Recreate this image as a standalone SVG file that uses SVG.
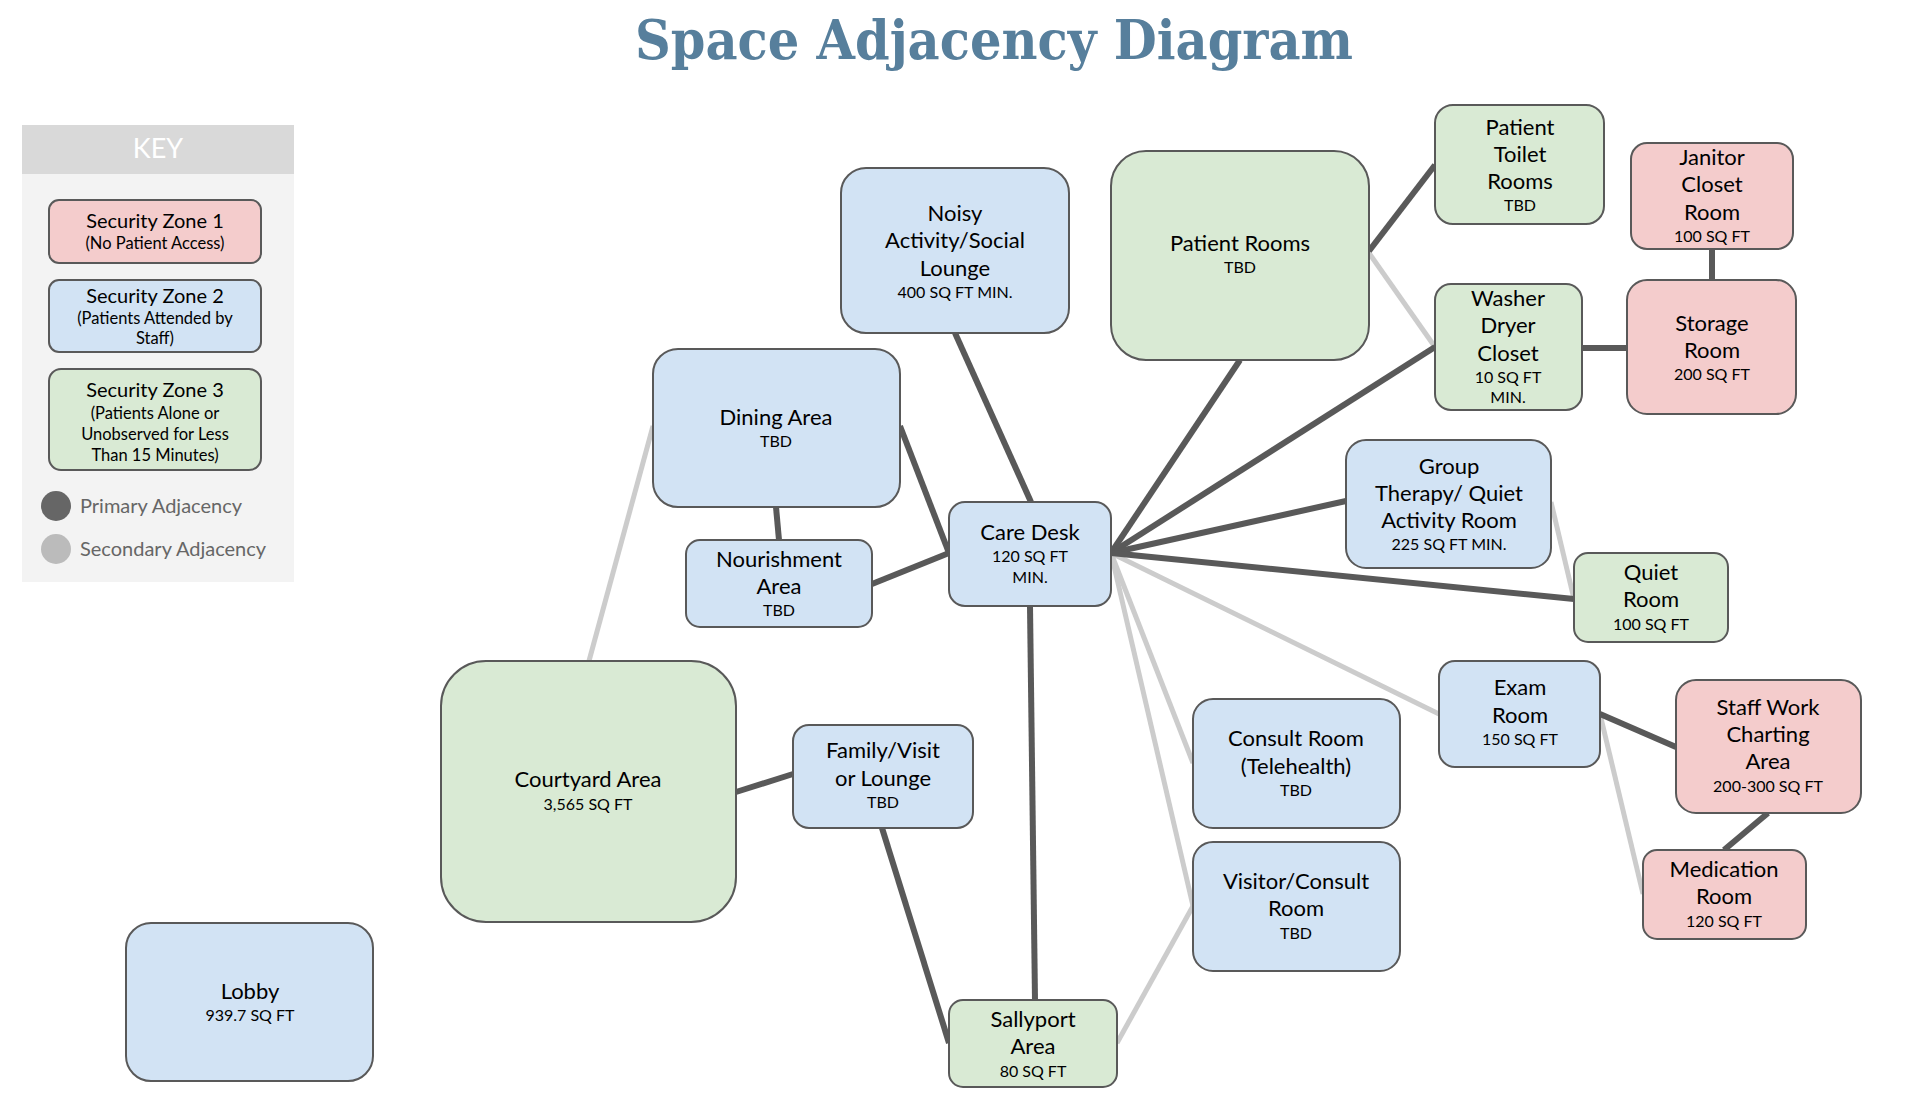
<svg xmlns="http://www.w3.org/2000/svg" width="1920" height="1109" viewBox="0 0 1920 1109">
<style>
.n rect{stroke:#595959;stroke-width:2}
.b{fill:#d2e3f4}.g{fill:#d9ead4}.r{fill:#f4cccc}
text{font-family:Lato,"Noto Sans",sans-serif;fill:#000;text-anchor:middle}
.m{font-size:22px}.s{font-size:16px}
.p{stroke:#595959;stroke-width:6;fill:none}
.q{stroke:#cccccc;stroke-width:5;fill:none}
.k{font-size:20px}.ks{font-size:16.5px}
</style>
<rect width="1920" height="1109" fill="#fff"/>
<text x="994" y="59" style="font-family:'DejaVu Serif','Liberation Serif',serif;font-weight:bold;font-size:54px;fill:#577f9c" textLength="718" lengthAdjust="spacingAndGlyphs">Space Adjacency Diagram</text>

<g id="key">
<rect x="22" y="125" width="272" height="457" fill="#f3f3f3"/>
<rect x="22" y="125" width="272" height="49" fill="#d9d9d9"/>
<text x="158" y="158" style="font-size:27px;fill:#fff">KEY</text>
<g class="n">
<rect class="r" x="49" y="200" width="212" height="63" rx="10"/>
<rect class="b" x="49" y="280" width="212" height="72" rx="10"/>
<rect class="g" x="49" y="369" width="212" height="101" rx="12"/>
</g>
<text class="k" x="155" y="228">Security Zone 1</text>
<text class="ks" x="155" y="249">(No Patient Access)</text>
<text class="k" x="155" y="303">Security Zone 2</text>
<text class="ks" x="155" y="324">(Patients Attended by</text>
<text class="ks" x="155" y="344">Staff)</text>
<text class="k" x="155" y="397">Security Zone 3</text>
<text class="ks" x="155" y="419">(Patients Alone or</text>
<text class="ks" x="155" y="440">Unobserved for Less</text>
<text class="ks" x="155" y="461">Than 15 Minutes)</text>
<circle cx="56" cy="506" r="15" fill="#666"/>
<circle cx="56" cy="549" r="15" fill="#bbb"/>
<text x="80" y="513" style="font-size:20px;fill:#666;text-anchor:start">Primary Adjacency</text>
<text x="80" y="556" style="font-size:20px;fill:#666;text-anchor:start">Secondary Adjacency</text>
</g>

<g id="connectors">
<line class="q" x1="1369" y1="253" x2="1435" y2="347"/>
<line class="q" x1="653" y1="426" x2="589" y2="661"/>
<line class="q" x1="1551" y1="502" x2="1574" y2="599"/>
<line class="q" x1="1111" y1="553" x2="1439" y2="714"/>
<line class="q" x1="1111" y1="553" x2="1193" y2="763"/>
<line class="q" x1="1111" y1="553" x2="1193" y2="906"/>
<line class="q" x1="1193" y1="906" x2="1117" y2="1043"/>
<line class="q" x1="1600" y1="714" x2="1643" y2="894"/>
<line class="p" x1="955" y1="333" x2="1031" y2="502"/>
<line class="p" x1="1240" y1="360" x2="1111" y2="553"/>
<line class="p" x1="1369" y1="251" x2="1435" y2="165"/>
<line class="p" x1="1435" y1="347" x2="1111" y2="553"/>
<line class="p" x1="1582" y1="348" x2="1627" y2="348"/>
<line class="p" x1="1712" y1="249" x2="1712" y2="280"/>
<line class="p" x1="1346" y1="501" x2="1111" y2="553"/>
<line class="p" x1="1574" y1="599" x2="1111" y2="553"/>
<line class="p" x1="900" y1="426" x2="949" y2="553"/>
<line class="p" x1="776" y1="507" x2="779" y2="540"/>
<line class="p" x1="872" y1="584" x2="949" y2="553"/>
<line class="p" x1="1030" y1="606" x2="1035" y2="1000"/>
<line class="p" x1="736" y1="792" x2="793" y2="774"/>
<line class="p" x1="882" y1="828" x2="949" y2="1043"/>
<line class="p" x1="1600" y1="714" x2="1676" y2="747"/>
<line class="p" x1="1768" y1="813" x2="1724" y2="850"/>
</g>

<g id="noisy" class="n"><rect class="b" x="841" y="168" width="228" height="165" rx="25"/>
<text class="m" x="955" y="221">Noisy</text><text class="m" x="955" y="248">Activity/Social</text><text class="m" x="955" y="276">Lounge</text><text class="s" x="955" y="298">400 SQ FT MIN.</text></g>

<g id="patient-rooms" class="n"><rect class="g" x="1111" y="151" width="258" height="209" rx="35"/>
<text class="m" x="1240" y="251">Patient Rooms</text><text class="s" x="1240" y="273">TBD</text></g>

<g id="patient-toilet" class="n"><rect class="g" x="1435" y="105" width="169" height="119" rx="18"/>
<text class="m" x="1520" y="135">Patient</text><text class="m" x="1520" y="162">Toilet</text><text class="m" x="1520" y="189">Rooms</text><text class="s" x="1520" y="211">TBD</text></g>

<g id="janitor" class="n"><rect class="r" x="1631" y="143" width="162" height="106" rx="16"/>
<text class="m" x="1712" y="165">Janitor</text><text class="m" x="1712" y="192">Closet</text><text class="m" x="1712" y="220">Room</text><text class="s" x="1712" y="242">100 SQ FT</text></g>

<g id="washer" class="n"><rect class="g" x="1435" y="284" width="147" height="126" rx="16"/>
<text class="m" x="1508" y="306">Washer</text><text class="m" x="1508" y="333">Dryer</text><text class="m" x="1508" y="361">Closet</text><text class="s" x="1508" y="383">10 SQ FT</text><text class="s" x="1508" y="403">MIN.</text></g>

<g id="storage" class="n"><rect class="r" x="1627" y="280" width="169" height="134" rx="20"/>
<text class="m" x="1712" y="331">Storage</text><text class="m" x="1712" y="358">Room</text><text class="s" x="1712" y="380">200 SQ FT</text></g>

<g id="dining" class="n"><rect class="b" x="653" y="349" width="247" height="158" rx="25"/>
<text class="m" x="776" y="425">Dining Area</text><text class="s" x="776" y="447">TBD</text></g>

<g id="care-desk" class="n"><rect class="b" x="949" y="502" width="162" height="104" rx="16"/>
<text class="m" x="1030" y="540">Care Desk</text><text class="s" x="1030" y="562">120 SQ FT</text><text class="s" x="1030" y="583">MIN.</text></g>

<g id="nourishment" class="n"><rect class="b" x="686" y="540" width="186" height="87" rx="14"/>
<text class="m" x="779" y="567">Nourishment</text><text class="m" x="779" y="594">Area</text><text class="s" x="779" y="616">TBD</text></g>

<g id="group-therapy" class="n"><rect class="b" x="1346" y="440" width="205" height="128" rx="20"/>
<text class="m" x="1449" y="474">Group</text><text class="m" x="1449" y="501">Therapy/ Quiet</text><text class="m" x="1449" y="528">Activity Room</text><text class="s" x="1449" y="550">225 SQ FT MIN.</text></g>

<g id="quiet-room" class="n"><rect class="g" x="1574" y="553" width="154" height="89" rx="14"/>
<text class="m" x="1651" y="580">Quiet</text><text class="m" x="1651" y="607">Room</text><text class="s" x="1651" y="630">100 SQ FT</text></g>

<g id="exam-room" class="n"><rect class="b" x="1439" y="661" width="161" height="106" rx="16"/>
<text class="m" x="1520" y="695">Exam</text><text class="m" x="1520" y="723">Room</text><text class="s" x="1520" y="745">150 SQ FT</text></g>

<g id="staff-work" class="n"><rect class="r" x="1676" y="680" width="185" height="133" rx="20"/>
<text class="m" x="1768" y="715">Staff Work</text><text class="m" x="1768" y="742">Charting</text><text class="m" x="1768" y="769">Area</text><text class="s" x="1768" y="792">200-300 SQ FT</text></g>

<g id="medication" class="n"><rect class="r" x="1643" y="850" width="163" height="89" rx="14"/>
<text class="m" x="1724" y="877">Medication</text><text class="m" x="1724" y="904">Room</text><text class="s" x="1724" y="927">120 SQ FT</text></g>

<g id="consult" class="n"><rect class="b" x="1193" y="699" width="207" height="129" rx="20"/>
<text class="m" x="1296" y="746">Consult Room</text><text class="m" x="1296" y="774">(Telehealth)</text><text class="s" x="1296" y="796">TBD</text></g>

<g id="visitor" class="n"><rect class="b" x="1193" y="842" width="207" height="129" rx="20"/>
<text class="m" x="1296" y="889">Visitor/Consult</text><text class="m" x="1296" y="916">Room</text><text class="s" x="1296" y="939">TBD</text></g>

<g id="courtyard" class="n"><rect class="g" x="441" y="661" width="295" height="261" rx="45"/>
<text class="m" x="588" y="787">Courtyard Area</text><text class="s" x="588" y="810">3,565 SQ FT</text></g>

<g id="family" class="n"><rect class="b" x="793" y="725" width="180" height="103" rx="16"/>
<text class="m" x="883" y="758">Family/Visit</text><text class="m" x="883" y="786">or Lounge</text><text class="s" x="883" y="808">TBD</text></g>

<g id="sallyport" class="n"><rect class="g" x="949" y="1000" width="168" height="87" rx="14"/>
<text class="m" x="1033" y="1027">Sallyport</text><text class="m" x="1033" y="1054">Area</text><text class="s" x="1033" y="1077">80 SQ FT</text></g>

<g id="lobby" class="n"><rect class="b" x="126" y="923" width="247" height="158" rx="25"/>
<text class="m" x="250" y="999">Lobby</text><text class="s" x="250" y="1021">939.7 SQ FT</text></g>
</svg>
